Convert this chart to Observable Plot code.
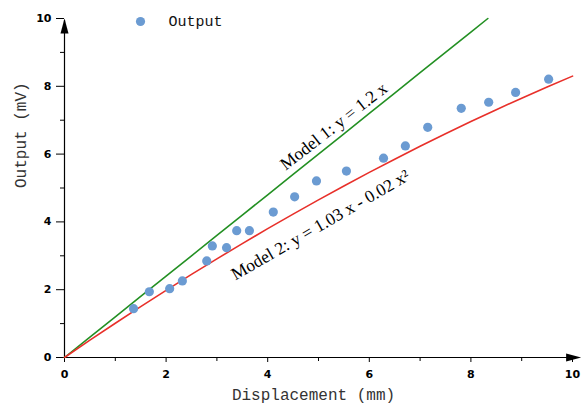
<!DOCTYPE html>
<html><head><meta charset="utf-8">
<script src="https://cdn.jsdelivr.net/npm/d3@7"></script>
<script src="https://cdn.jsdelivr.net/npm/@observablehq/plot@0.6"></script>
<style>body{margin:0;background:#fff}</style>
</head><body><div id="chart"></div>
<script>
// Measured points (Displacement mm, Output mV)
const dispX = [1.36,1.67,2.07,2.32,2.80,2.91,3.19,3.39,3.64,4.11,4.53,4.96,5.55,6.28,6.71,7.15,7.81,8.35,8.88,9.53];
const outY  = [1.44,1.94,2.03,2.26,2.85,3.29,3.24,3.74,3.74,4.29,4.74,5.21,5.50,5.88,6.24,6.79,7.35,7.53,7.82,8.21];
// Model coefficients as printed on the chart
const model1 = {a: 1.2};
const model2 = {a: 1.03, b: -0.02};
const sampleX = [0,0.5,1,1.5,2,2.5,3,3.5,4,4.5,5,5.5,6,6.5,7,7.5,8,8.5,9,9.5,10];
const majorTicks = [0,2,4,6,8,10];
const minorTicks = [1,3,5,7,9];
const labels = [
  {x: 5.3, y: 6.82, text: "Model 1: y = 1.2 x", rotate: -38},
  {x: 5.04, y: 3.91, text: "Model 2: y = 1.03 x - 0.02 x²", rotate: -30}
];

const points = dispX.map((x,i)=>({x, y: outY[i]}));
const line1 = sampleX.map(x=>({x, y: model1.a*x})).filter(d=>d.y<=10.0001);
line1.push({x: 10/model1.a, y: 10});
line1.sort((a,b)=>a.x-b.x);
const line2 = sampleX.map(x=>({x, y: model2.a*x + model2.b*x*x}));

const arrowHead = {draw(ctx){ ctx.moveTo(0,0); ctx.lineTo(-4,15); ctx.lineTo(4,15); ctx.closePath(); }};

const tickFont = {fontFamily: "DejaVu Sans", fontWeight: "bold", fontSize: 11};

const chart = Plot.plot({
  width: 582, height: 403,
  marginLeft: 64, marginRight: 10, marginTop: 18, marginBottom: 46,
  x: {domain: [0,10]},
  y: {domain: [0,10]},
  style: {background: "#fff", color: "#000"},
  marks: [
    Plot.axisY(majorTicks, {tickSize: 8, tickPadding: 5, ...tickFont, label: null, fill: "#000"}),
    Plot.axisY(minorTicks, {tickSize: 4, text: null, label: null}),
    Plot.axisX(majorTicks, {tickSize: 5, tickPadding: 8, ...tickFont, label: null, fill: "#000"}),
    Plot.axisX(minorTicks, {tickSize: 4, text: null, label: null}),
    Plot.ruleY([0], {x1: 0, x2: 10.1, stroke: "#000", strokeWidth: 1.2}),
    Plot.ruleX([0], {y1: 0, y2: 9.95, stroke: "#000", strokeWidth: 1.2}),
    Plot.dot([0], {x: 0, y: 10, symbol: arrowHead, fill: "#000", stroke: null}),
    Plot.dot([0], {x: 10.17, y: 0, symbol: arrowHead, rotate: 90, fill: "#000", stroke: null}),
    Plot.line(line1, {x: "x", y: "y", stroke: "#239023", strokeWidth: 1.6}),
    Plot.line(line2, {x: "x", y: "y", stroke: "#e8302a", strokeWidth: 1.6}),
    Plot.dot(points, {x: "x", y: "y", r: 4.6, fill: "#6b9bd2", stroke: null}),
    Plot.text(labels, {x: "x", y: "y", text: "text", rotate: "rotate", fontFamily: "Liberation Serif", fontSize: 17.5, fill: "#000"}),
    // legend
    Plot.dot([0], {frameAnchor: "top-left", dx: 76, dy: 3, r: 4.6, fill: "#6b9bd2", stroke: null}),
    Plot.text(["Output"], {frameAnchor: "top-left", dx: 104, dy: 3, lineAnchor: "middle", textAnchor: "start", fontFamily: "Liberation Mono", fontSize: 15, fill: "#111"}),
    // axis titles
    Plot.text(["Output (mV)"], {frameAnchor: "left", dx: -44, rotate: -90, fontFamily: "Liberation Mono", fontSize: 16, fill: "#333"}),
    Plot.text(["Displacement (mm)"], {frameAnchor: "bottom", dx: -5, dy: 42, fontFamily: "Liberation Mono", fontSize: 16, fill: "#333"})
  ]
});
document.getElementById("chart").appendChild(chart);
</script>
</body></html>
